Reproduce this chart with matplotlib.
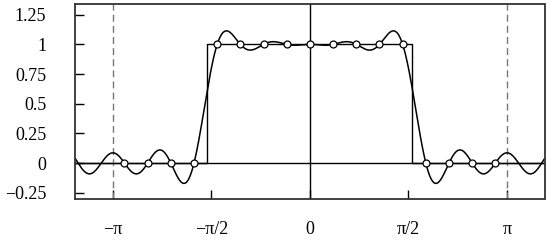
import numpy as np
import matplotlib.pyplot as plt

plt.rcParams['font.family'] = ['Liberation Serif', 'DejaVu Serif']
plt.rcParams['font.size'] = 13

# sample points: k = -8..8, x_k = 2*pi*k/17
k_idx = np.arange(-8, 9)
n_pts = 17
y_samples = [0, 0, 0, 0, 1, 1, 1, 1, 1, 1, 1, 1, 1, 0, 0, 0, 0]
pulse_edge = 1.635

xtick_vals = [-np.pi, -np.pi / 2, 0, np.pi / 2, np.pi]
xtick_labels = ["\u2212\u03c0", "\u2212\u03c0/2", "0", "\u03c0/2", "\u03c0"]
ytick_vals = [-0.25, 0, 0.25, 0.5, 0.75, 1, 1.25]
ytick_labels = ["\u22120.25", "0", "0.25", "0.5", "0.75", "1", "1.25"]

x_samples = 2 * np.pi * k_idx / n_pts


def trig_interp(x, xs, ys, n):
    # periodic (Dirichlet kernel) interpolant through the samples, odd n
    out = np.zeros_like(x)
    for xk, yk in zip(xs, ys):
        t = x - xk
        s = np.sin(t / 2)
        d = np.where(np.abs(s) < 1e-12, 1.0,
                     np.sin(n * t / 2) / (n * np.where(np.abs(s) < 1e-12, 1, s)))
        out += yk * d
    return out


fig = plt.figure(figsize=(5.5, 2.43), dpi=100)
ax = fig.add_axes([0.137, 0.181, 0.853, 0.8025])

xlo, xhi = -3.74, 3.74
ax.set_xlim(xlo, xhi)
ax.set_ylim(-0.303, 1.34)

ax.axhline(0, color='black', lw=1)
ax.axvline(0, color='black', lw=1)
for xv in (-np.pi, np.pi):
    ax.axvline(xv, color='#777777', lw=1, dashes=(5, 3))

# rectangular pulse
ax.plot([xlo, -pulse_edge, -pulse_edge, pulse_edge, pulse_edge, xhi],
        [0, 0, 1, 1, 0, 0], color='black', lw=1)

xx = np.linspace(xlo, xhi, 1500)
ax.plot(xx, trig_interp(xx, x_samples, y_samples, n_pts), color='black', lw=1.1)

ax.plot(x_samples, y_samples, 'o', ms=5, mfc='white', mec='black', mew=0.9, zorder=5)

ax.set_xticks(xtick_vals)
ax.set_xticklabels(xtick_labels)
ax.set_yticks(ytick_vals)
ax.set_yticklabels(ytick_labels)
ax.tick_params(axis='x', direction='in', length=6.5, pad=16, width=1)
ax.tick_params(axis='y', direction='in', length=6.5, pad=21, width=1)
for sp in ax.spines.values():
    sp.set_linewidth(1.3)
    sp.set_color('#333333')

fig.savefig('out.png', dpi=100)
